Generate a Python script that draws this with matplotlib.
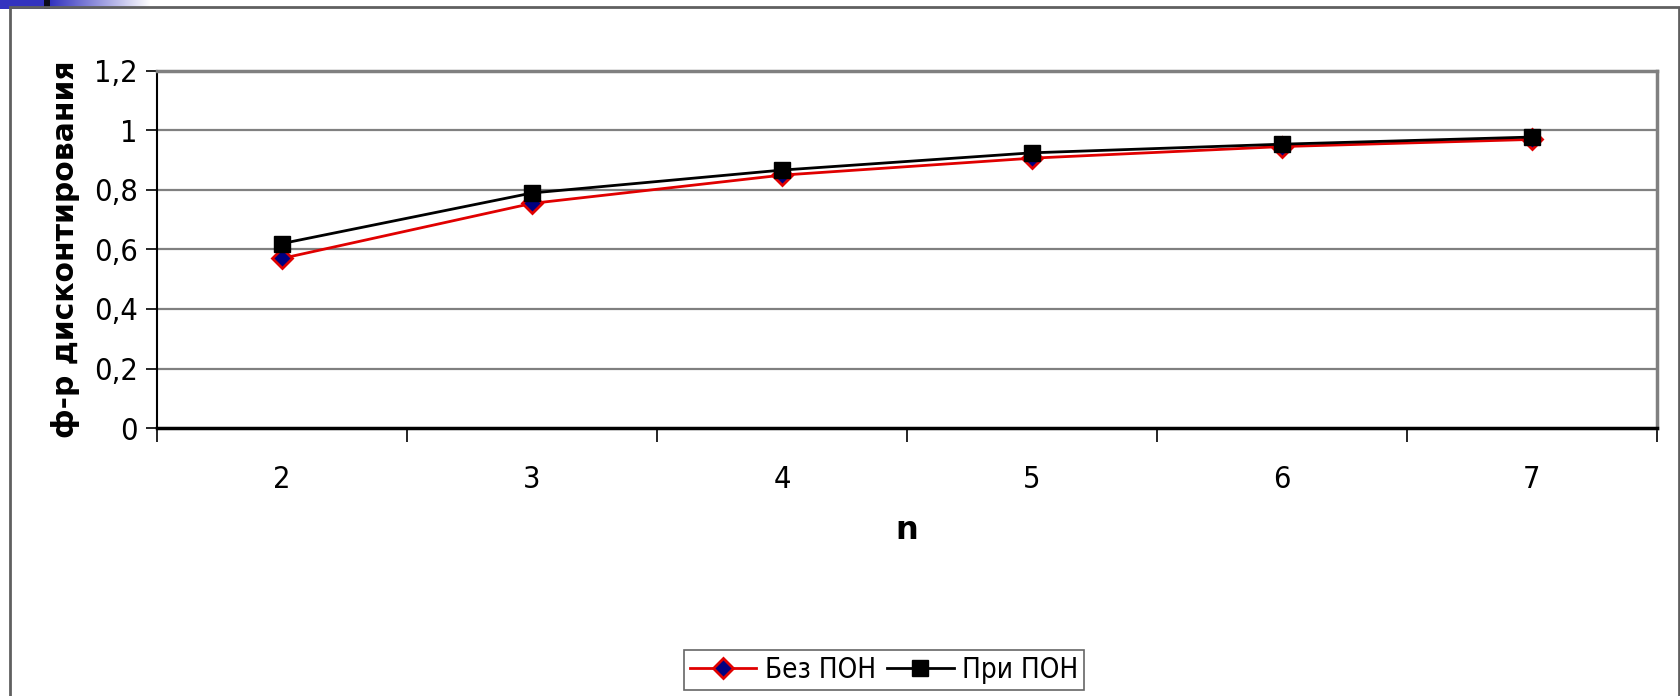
import matplotlib
matplotlib.use("Agg")
import matplotlib.pyplot as plt
import numpy as np
from matplotlib.patches import Rectangle
from matplotlib.font_manager import FontProperties

categories = ["2", "3", "4", "5", "6", "7"]
bez_pon = [0.57, 0.755, 0.85, 0.907, 0.946, 0.97]
pri_pon = [0.62, 0.79, 0.867, 0.925, 0.954, 0.978]
y_ticks = [0, 0.2, 0.4, 0.6, 0.8, 1.0, 1.2]
y_tick_labels = ["0", "0,2", "0,4", "0,6", "0,8", "1", "1,2"]

W, H = 1681, 696
fig = plt.figure(figsize=(W / 100, H / 100), dpi=100)
fig.patch.set_facecolor("white")

# slide decoration: top-left gradient bar
grad_ax = fig.add_axes([0, 1 - 9 / H, 150 / W, 9 / H])
g = np.ones((1, 150, 4))
for i in range(150):
    if i < 44:
        g[0, i] = [0.2, 0.2, 0.75, 1]
    elif i < 50:
        g[0, i] = [0.05, 0.05, 0.1, 1]
    else:
        t = (i - 50) / 100
        g[0, i] = [0.2 + 0.8 * t, 0.2 + 0.8 * t, 0.75 + 0.25 * t, 1]
grad_ax.imshow(g, aspect="auto", extent=[0, 1, 0, 1])
grad_ax.axis("off")

# outer chart frame
fig.patches.append(Rectangle((10 / W, -0.05), (1679 - 10) / W, 1.05 - 7 / H,
                             transform=fig.transFigure, fill=False,
                             edgecolor="#606060", linewidth=2, zorder=0))

left, right, top, bottom = 157, 1657, 71, 428
ax = fig.add_axes([left / W, 1 - bottom / H, (right - left) / W, (bottom - top) / H])

x = np.arange(len(categories))
ax.plot(x, bez_pon, color="#e00000", linewidth=2.0, marker="D", markersize=10,
        markerfacecolor="#000080", markeredgecolor="#e00000", markeredgewidth=2,
        label="Без ПОН", zorder=3)
ax.plot(x, pri_pon, color="black", linewidth=2.0, marker="s", markersize=11,
        markerfacecolor="black", markeredgecolor="black",
        label="При ПОН", zorder=4)

tick_fp = FontProperties(family="DejaVu Sans", stretch="condensed", size=22)

ax.set_xlim(-0.5, len(categories) - 0.5)
ax.set_ylim(0, 1.2)
ax.set_yticks(y_ticks)
ax.set_yticklabels(y_tick_labels, fontproperties=tick_fp)
ax.set_xticks(x)
ax.set_xticklabels(categories, fontproperties=tick_fp)
ax.set_xticks(np.arange(-0.5, len(categories), 1.0), minor=True)
ax.tick_params(axis="x", which="major", length=0, pad=27)
ax.tick_params(axis="x", which="minor", length=10, width=1.2, direction="out", color="black")
ax.tick_params(axis="y", length=8, width=1.2, direction="out", pad=6)

for yv in y_ticks[1:]:
    ax.axhline(yv, color="#808080", linewidth=1.6, zorder=1)

ax.spines["left"].set_color("black")
ax.spines["left"].set_linewidth(1.5)
ax.spines["bottom"].set_color("black")
ax.spines["bottom"].set_linewidth(2.5)
ax.spines["top"].set_color("#808080")
ax.spines["top"].set_linewidth(2.5)
ax.spines["right"].set_color("#808080")
ax.spines["right"].set_linewidth(2.5)

ax.set_xlabel("n", fontsize=23, fontweight="heavy", family="DejaVu Sans", labelpad=15)
ax.set_ylabel("ф-р дисконтирования", fontsize=21.5, fontweight="heavy",
              family="DejaVu Sans", labelpad=10)

leg = fig.legend(loc="center", bbox_to_anchor=(884 / W, 1 - 670 / H), ncol=2,
                 prop=FontProperties(family="DejaVu Sans", stretch="condensed", size=20),
                 frameon=True, fancybox=False, edgecolor="#404040",
                 handlelength=2.4, columnspacing=0.4, handletextpad=0.3,
                 borderpad=0.2)
leg.get_frame().set_linewidth(1.2)

fig.savefig("out.png", dpi=100, facecolor="white")
